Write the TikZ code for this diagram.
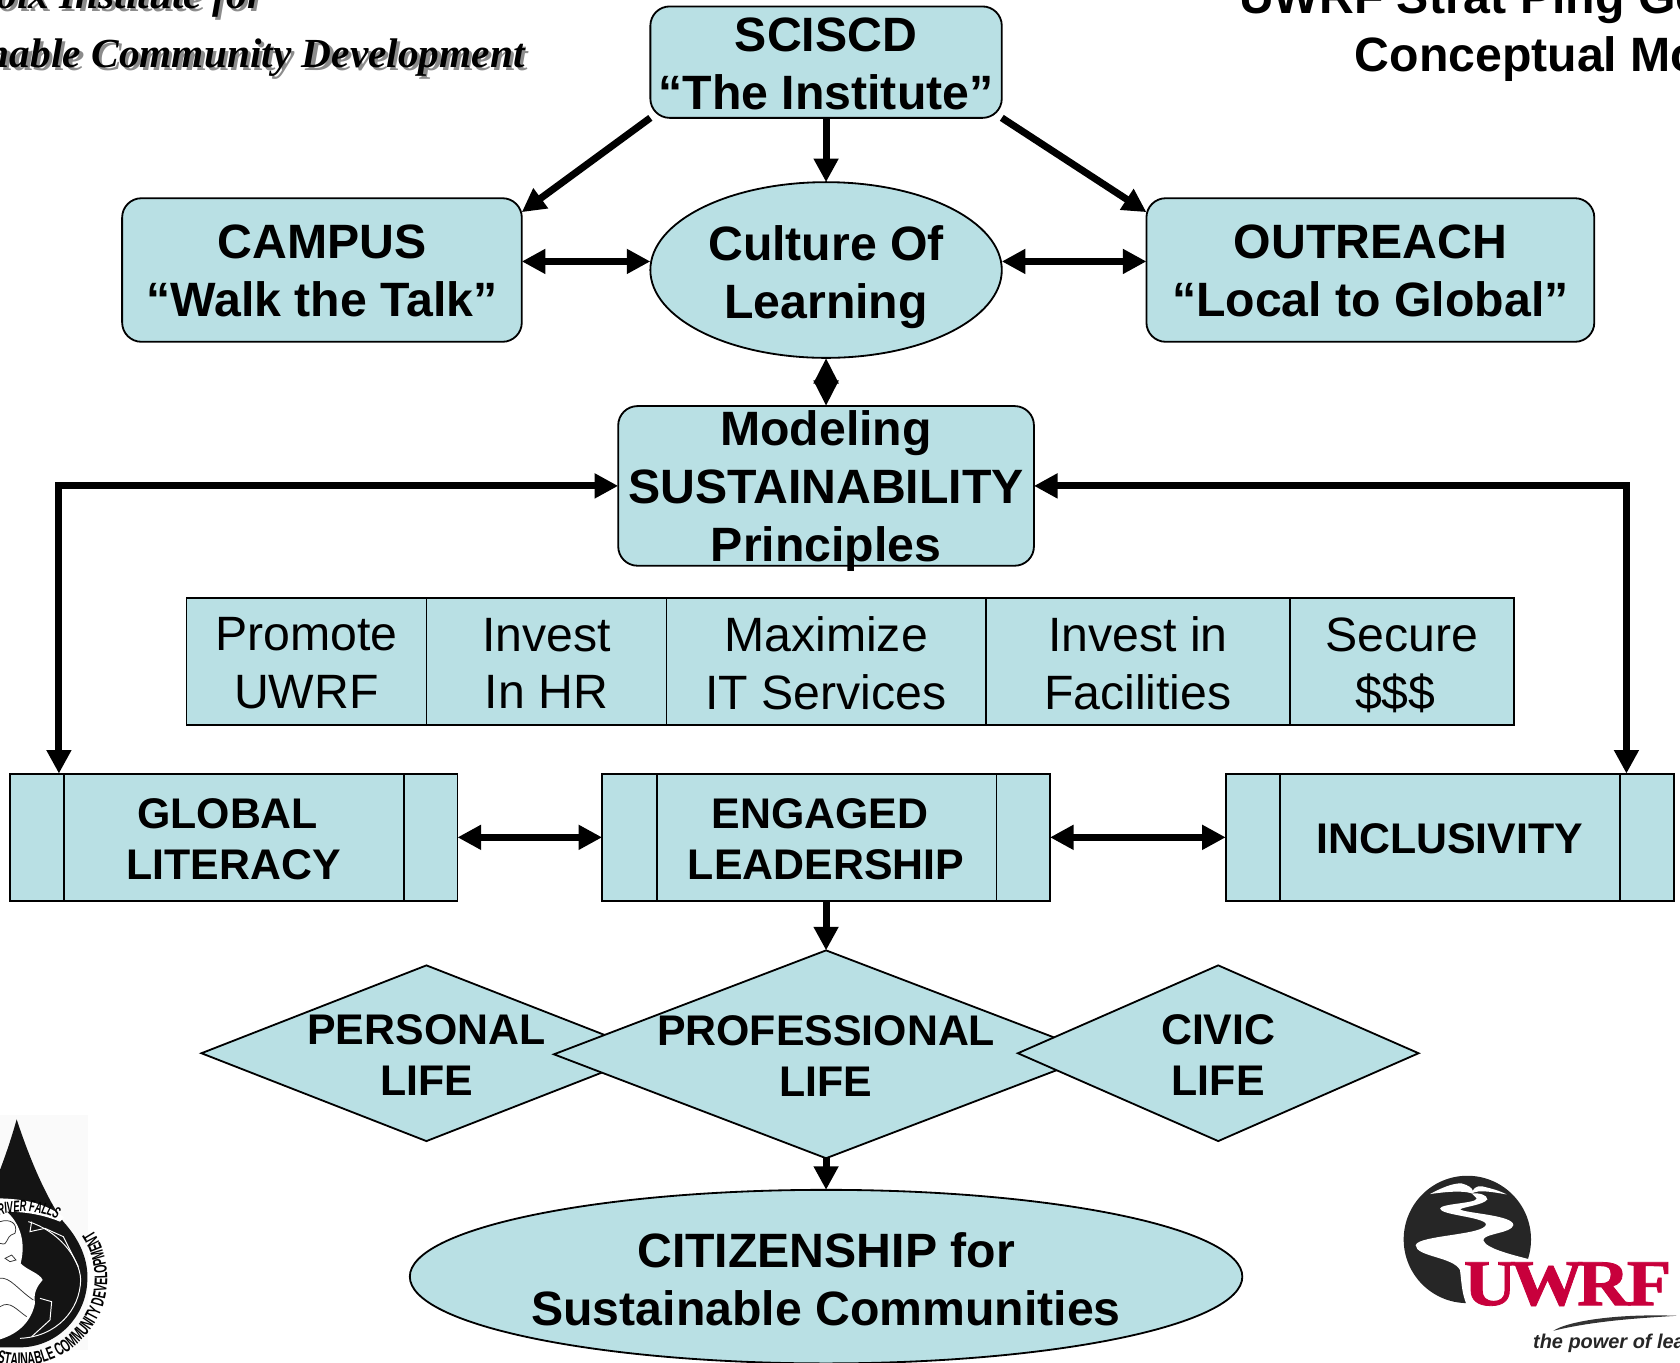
\documentclass[tikz,border=0pt]{standalone}
\usepackage{fontspec}
\setmainfont{Liberation Sans}
\newfontfamily\serifF{Liberation Serif}
\newfontfamily\condF[FakeStretch=0.58]{Liberation Sans}
\newfontfamily\logoF[FakeStretch=1.12,FakeBold=1.2]{Liberation Serif}
\usetikzlibrary{arrows.meta,shapes.geometric,shapes.misc,decorations.text}
\definecolor{tealfill}{HTML}{B9E0E4}
\definecolor{uwred}{HTML}{C8003C}
\tikzset{
  bigbold/.style={font=\fontsize{22.5}{27}\selectfont\bfseries,align=center,text=black},
  bigreg/.style={font=\fontsize{22.5}{27}\selectfont,align=center,text=black},
  midbold/.style={font=\fontsize{20}{24}\selectfont\bfseries,align=center,text=black},
  every label/.style={yshift=-.85pt},
  shapebase/.style={draw=black,line width=.85pt,fill=tealfill,inner sep=0pt,outer sep=0pt},
  roundbox/.style={shapebase,rectangle,rounded corners=9pt},
  oval/.style={shapebase,ellipse},
  cell/.style={shapebase,rectangle,minimum height=59.5pt},
  procbox/.style={shapebase,rectangle,minimum width=209pt,minimum height=59.5pt},
  dia/.style={shapebase,diamond},
  headtext/.style={anchor=base east,inner sep=0pt,font=\fontsize{19.3}{24}\selectfont\serifF\bfseries\itshape},
  conn/.style={line width=3.3pt,line join=miter,-{Triangle[length=11pt,width=11pt]}},
  biconn/.style={line width=3.3pt,line join=miter,{Triangle[length=11pt,width=11pt]}-{Triangle[length=11pt,width=11pt]}},
  shortbi/.style={line width=3.3pt,{Triangle[length=12pt,width=11pt]}-{Triangle[length=12pt,width=11pt]}},
  inner rule/.style={line width=.85pt}
}
\begin{document}
\begin{tikzpicture}[x=.5pt,y=-.5pt]
\useasboundingbox (0,0) rectangle (1568,1271.2);
\clip (0,0) rectangle (1568,1271.2);

% header texts
\node[headtext,text=black!45] (h1s) at (249,11) {St. Croix Institute for};
\node[headtext,text=black] (h1) at (246,8) {St. Croix Institute for};
\node[headtext,text=black!45] (h2s) at (493,66) {Sustainable Community Development};
\node[headtext,text=black] (h2) at (490,63) {Sustainable Community Development};
\node[anchor=base west,inner sep=0pt,font=\fontsize{22.5}{27}\selectfont\bfseries] (t1) at (1156,13) {UWRF  Strat Plng Goals};
\node[anchor=base west,inner sep=0pt,font=\fontsize{22.5}{27}\selectfont\bfseries] (t2) at (1264,67) {Conceptual Model};

% main nodes
\node[roundbox,minimum width=164pt,minimum height=52pt,label={[bigbold]center:SCISCD\\“The Institute”}] (sci) at (771,58) {};
\node[roundbox,minimum width=186.5pt,minimum height=67pt,label={[bigbold,yshift=.35pt]center:CAMPUS\\“Walk the Talk”}] (campus) at (300.5,252) {};
\node[oval,minimum width=164pt,minimum height=82pt,label={[bigbold,yshift=-2.4pt]center:Culture Of\\Learning}] (culture) at (771,252) {};
\node[roundbox,minimum width=209pt,minimum height=67pt,label={[bigbold,yshift=.35pt]center:OUTREACH\\“Local to Global”}] (outreach) at (1279,252) {};
\node[roundbox,minimum width=194pt,minimum height=74.5pt,label={[bigbold,yshift=-1.4pt]center:Modeling\\SUSTAINABILITY\\Principles}] (model) at (771,453.5) {};

% table
\node[cell,minimum width=112pt,label={[bigreg]center:Promote\\UWRF}] (c1) at (286,617.5) {};
\node[cell,minimum width=112pt,label={[bigreg]center:Invest\\In HR}] (c2) at (510,617.5) {};
\node[cell,minimum width=149pt,label={[bigreg]center:Maximize\\IT Services}] (c3) at (771,617.5) {};
\node[cell,minimum width=142pt,label={[bigreg]center:Invest in\\Facilities}] (c4) at (1062,617.5) {};
\node[cell,minimum width=104.5pt,label={[bigreg,yshift=-.9pt]center:Secure\\\$\$\$~\mbox{}}] (c5) at (1308.5,617.5) {};

% process boxes
\node[procbox,label={[midbold]center:GLOBAL~\mbox{}\\LITERACY}] (glob) at (218,781.5) {};
\node[procbox,label={[midbold]center:ENGAGED~\mbox{}\\LEADERSHIP}] (eng) at (771,781.5) {};
\node[procbox,label={[midbold]center:INCLUSIVITY}] (inc) at (1353,781.5) {};
\foreach \n in {glob,eng,inc}{
  \draw[inner rule] ([xshift=25.5pt]\n.north west) -- ([xshift=25.5pt]\n.south west);
  \draw[inner rule] ([xshift=-25pt]\n.north east) -- ([xshift=-25pt]\n.south east);
}

% diamonds
\node[dia,minimum width=210pt,minimum height=82pt,label={[midbold]center:PERSONAL\\LIFE}] (pers) at (398,983) {};
\node[dia,minimum width=254pt,minimum height=97pt,label={[midbold]center:PROFESSIONAL\\LIFE}] (prof) at (771,984) {};
\node[dia,minimum width=187pt,minimum height=82pt,label={[midbold]center:CIVIC\\LIFE}] (civ) at (1137,983) {};
\node[oval,minimum width=388.5pt,minimum height=81pt,label={[bigbold,yshift=-.4pt]center:CITIZENSHIP for\\Sustainable Communities}] (cit) at (771,1191.5) {};

% connectors
\coordinate (lc) at (55,453.5);
\coordinate (rc) at (1518,453.5);
\coordinate (gtop) at ([xshift=-81.5pt]glob.north);
\coordinate (itop) at ([xshift=82.5pt]inc.north);
\draw[conn] (sci.south west) -- ([yshift=-6.5pt]campus.north east);
\draw[conn] (sci.south east) -- ([yshift=-6.5pt]outreach.north west);
\draw[conn] (sci.south) -- (culture.north);
\draw[biconn] ([yshift=4pt]campus.east) -- ([yshift=4pt]culture.west);
\draw[biconn] ([yshift=4pt]culture.east) -- ([yshift=4pt]outreach.west);
\draw[shortbi] (culture.south) -- (model.north);
\draw[biconn] (model.west) -- (lc) -- (gtop);
\draw[biconn] (model.east) -- (rc) -- (itop);
\draw[biconn] (glob.east) -- (eng.west);
\draw[biconn] (eng.east) -- (inc.west);
\draw[conn] (eng.south) -- (prof.north);
\draw[conn] (prof.south) -- (cit.north);

% left logo (zoom-crop coordinates)
\begin{scope}[shift={(0,1017.3)},x=.15556pt,y=-.15556pt]
  \fill[black!2] (0,75) rectangle (265,780);
  \fill[black!92] (50,88) .. controls (80,180) and (130,310) .. (190,395) .. controls (240,450) and (265,510) .. (262,570) .. controls (260,680) and (170,772) .. (60,772) -- (-20,772) -- (-20,290) .. controls (5,230) and (30,160) .. (50,88) -- cycle;
  \fill[white] (-20,325) .. controls (60,325) and (130,335) .. (192,382) -- (180,395) .. controls (120,370) and (60,365) .. (20,365) .. controls (55,395) and (80,450) .. (62,520) .. controls (80,540) and (120,550) .. (128,570) .. controls (110,590) and (100,610) .. (105,640) .. controls (95,690) and (60,730) .. (0,748) -- (-20,750) -- cycle;
  \draw[white,line width=.45pt] (85,395) .. controls (170,420) and (240,500) .. (242,570) .. controls (240,660) and (170,740) .. (60,745);
  \draw[white,line width=.45pt] (95,395) -- (90,425) -- (135,415) -- (190,440) -- (235,530);
  \draw[white,line width=.45pt] (120,625) -- (155,635) -- (150,690) -- (95,740);
  \draw[black!80,line width=.35pt] (0,395) .. controls (30,385) and (55,400) .. (45,430) .. controls (10,440) and (30,470) .. (0,460);
  \draw[black!80,line width=.35pt] (15,505) -- (35,495) -- (48,510) -- (30,515) -- cycle;
  \draw[black!80,line width=.35pt] (0,565) .. controls (30,560) and (55,600) .. (100,630);
  \draw[black!80,line width=.35pt] (0,650) .. controls (30,630) and (50,660) .. (80,680);
  \path[postaction={decorate},decoration={text along path,text align=left,
     text={|\fontsize{8.5}{8.5}\selectfont\condF\bfseries|SUSTAINABLE COMMUNITY DEVELOPMENT}}]
     (60,565) ++(115:262) arc[start angle=115,end angle=-42,radius=262];
  \path[postaction={decorate},decoration={text along path,text align=left,raise=-1pt,
     text={|\fontsize{7.5}{7.5}\selectfont\condF\bfseries\itshape|RIVER FALLS}}]
     (-5,370) .. controls (70,350) and (140,355) .. (200,400);
\end{scope}

% right logo (zoom-crop coordinates)
\begin{scope}[shift={(1288,1073.4)},x=.15556pt,y=-.15556pt]
  \fill[black!85] (262,268) circle[radius=191];
  \fill[white] (275,130) .. controls (300,128) and (322,135) .. (322,148) .. controls (310,165) and (250,170) .. (240,178) .. controls (260,190) and (400,195) .. (400,225) .. controls (395,250) and (310,250) .. (310,270) .. controls (315,295) and (400,315) .. (450,328) -- (480,340) -- (480,490) -- (268,480) .. controls (245,440) and (245,400) .. (240,360) .. controls (220,320) and (107,320) .. (107,285) .. controls (115,255) and (318,255) .. (318,222) .. controls (310,200) and (180,195) .. (180,175) .. controls (185,160) and (290,160) .. (290,145) -- cycle;
  \fill[white] (150,132) .. controls (180,115) and (220,98) .. (245,100) .. controls (265,105) and (278,115) .. (278,122) .. controls (285,108) and (300,105) .. (320,112) .. controls (345,118) and (365,125) .. (380,133) .. controls (350,128) and (320,122) .. (295,124) .. controls (285,126) and (278,128) .. (275,130) .. controls (262,125) and (230,120) .. (150,132) -- cycle;
  \node[anchor=base west,inner sep=0pt,text=uwred,font=\fontsize{30.5}{31}\selectfont\logoF\bfseries] (uwrf) at (250,465) {U\kern-3pt W\kern-3pt R\kern-1.5pt F};
  \fill[black!80] (520,542) .. controls (560,515) and (700,490) .. (890,497) .. controls (800,503) and (650,510) .. (520,542) -- cycle;
  \node[anchor=base west,inner sep=0pt,text=black!85,font=\fontsize{9.3}{12}\selectfont\bfseries\itshape] (tag) at (458,595) {the power of learning};
\end{scope}
\end{tikzpicture}
\end{document}
